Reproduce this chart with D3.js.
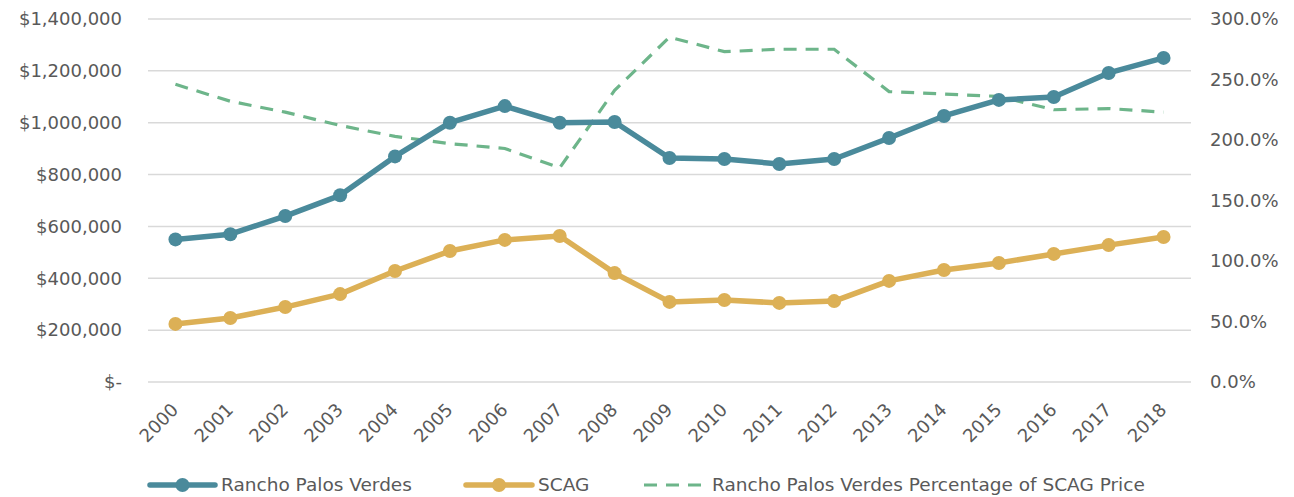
<!DOCTYPE html>
<html>
<head>
<meta charset="utf-8">
<script src="https://cdn.jsdelivr.net/npm/d3@7"></script>
<style>
  body { margin: 0; background: #fff; }
  text { font-family: "DejaVu Sans", "Liberation Sans", Arial, sans-serif; fill: #595959; }
</style>
</head>
<body>
<script>
var years = ["2000","2001","2002","2003","2004","2005","2006","2007","2008","2009",
             "2010","2011","2012","2013","2014","2015","2016","2017","2018"];
var rpv  = [550000, 570000, 640000, 720000, 870000, 1000000, 1064000, 1000000, 1003000, 864000,
            860000, 841000, 860000, 941000, 1026000, 1088000, 1099000, 1192000, 1250000];
var scag = [224000, 247000, 289000, 339000, 428000, 505000, 548000, 563000, 420000, 309000,
            316000, 305000, 312000, 390000, 432000, 459000, 494000, 528000, 559000];
var pct  = [2.46, 2.32, 2.23, 2.12, 2.03, 1.97, 1.93, 1.77, 2.41, 2.85,
            2.73, 2.75, 2.75, 2.40, 2.38, 2.36, 2.25, 2.26, 2.23];
var leftTicks = [0, 200000, 400000, 600000, 800000, 1000000, 1200000, 1400000];
var rightTicks = [0, 0.5, 1, 1.5, 2, 2.5, 3];

var width = 1294, height = 497;
var margin = {left: 148, right: 103, top: 19, bottom: 115};

var svg = d3.select("body").append("svg").attr("width", width).attr("height", height);

var x = d3.scaleBand().domain(years).range([margin.left, width - margin.right]);
var y = d3.scaleLinear().domain([0, 1400000]).range([height - margin.bottom, margin.top]);
var y2 = d3.scaleLinear().domain([0, 3]).range([height - margin.bottom, margin.top]);
var cx = function(i){ return x(years[i]) + x.bandwidth() / 2; };

// gridlines
svg.append("g").selectAll("line").data(leftTicks).enter().append("line")
  .attr("x1", margin.left).attr("x2", width - margin.right)
  .attr("y1", function(d){ return y(d); }).attr("y2", function(d){ return y(d); })
  .attr("stroke", "#d9d9d9").attr("stroke-width", 1.5);

// left axis
var money = d3.format(",");
var leftAxis = d3.axisLeft(y).tickValues(leftTicks).tickSize(0).tickPadding(26)
  .tickFormat(function(d){ return d === 0 ? "$-" : "$" + money(d); });
var gl = svg.append("g").attr("transform", "translate(" + margin.left + ",0)").call(leftAxis);
gl.select(".domain").remove();
gl.selectAll("text").style("font-size", "18px").attr("fill", "#595959");

// right axis
var rightAxis = d3.axisRight(y2).tickValues(rightTicks).tickSize(0).tickPadding(19)
  .tickFormat(d3.format(".1%"));
var gr = svg.append("g").attr("transform", "translate(" + (width - margin.right) + ",0)").call(rightAxis);
gr.select(".domain").remove();
gr.selectAll("text").style("font-size", "18px").attr("fill", "#595959");

// x labels
svg.append("g").selectAll("text").data(years).enter().append("text")
  .attr("text-anchor", "end")
  .attr("transform", function(d){ return "translate(" + (x(d) + x.bandwidth() / 2 + 4) + "," + (height - margin.bottom + 29) + ") rotate(-45)"; })
  .style("font-size", "18px")
  .text(function(d){ return d; });

var colors = {rpv: "#4a8a9b", scag: "#dcb056", pct: "#6db58a"};

var line = function(scale){
  return d3.line().x(function(d, i){ return cx(i); }).y(function(d){ return scale(d); });
};

// percentage dashed line
svg.append("path").datum(pct).attr("d", line(y2))
  .attr("fill", "none").attr("stroke", colors.pct).attr("stroke-width", 3.2)
  .attr("stroke-dasharray", "13,9");

function drawSeries(data, color){
  svg.append("path").datum(data).attr("d", line(y))
    .attr("fill", "none").attr("stroke", color).attr("stroke-width", 5.5)
    .attr("stroke-linejoin", "round");
  svg.append("g").selectAll("circle").data(data).enter().append("circle")
    .attr("cx", function(d, i){ return cx(i); })
    .attr("cy", function(d){ return y(d); })
    .attr("r", 7).attr("fill", color);
}
drawSeries(scag, colors.scag);
drawSeries(rpv, colors.rpv);

// legend
var legend = [
  {name: "Rancho Palos Verdes", color: colors.rpv, x: 150, w: 65, marker: true},
  {name: "SCAG", color: colors.scag, x: 466, w: 66, marker: true},
  {name: "Rancho Palos Verdes Percentage of SCAG Price", color: colors.pct, x: 644, w: 62, marker: false}
];
var ly = 485;
legend.forEach(function(l){
  var g = svg.append("g");
  var ln = g.append("line").attr("x1", l.x).attr("x2", l.x + l.w).attr("y1", ly).attr("y2", ly)
    .attr("stroke", l.color);
  if (l.marker) {
    ln.attr("stroke-width", 5.5).attr("stroke-linecap", "round");
    g.append("circle").attr("cx", l.x + l.w / 2).attr("cy", ly).attr("r", 7).attr("fill", l.color);
  } else {
    ln.attr("stroke-width", 3.2).attr("stroke-dasharray", "13,9");
  }
  g.append("text").attr("x", l.x + l.w + 6).attr("y", ly).attr("dy", "0.35em")
    .style("font-size", "18.5px").text(l.name);
});
</script>
</body>
</html>
